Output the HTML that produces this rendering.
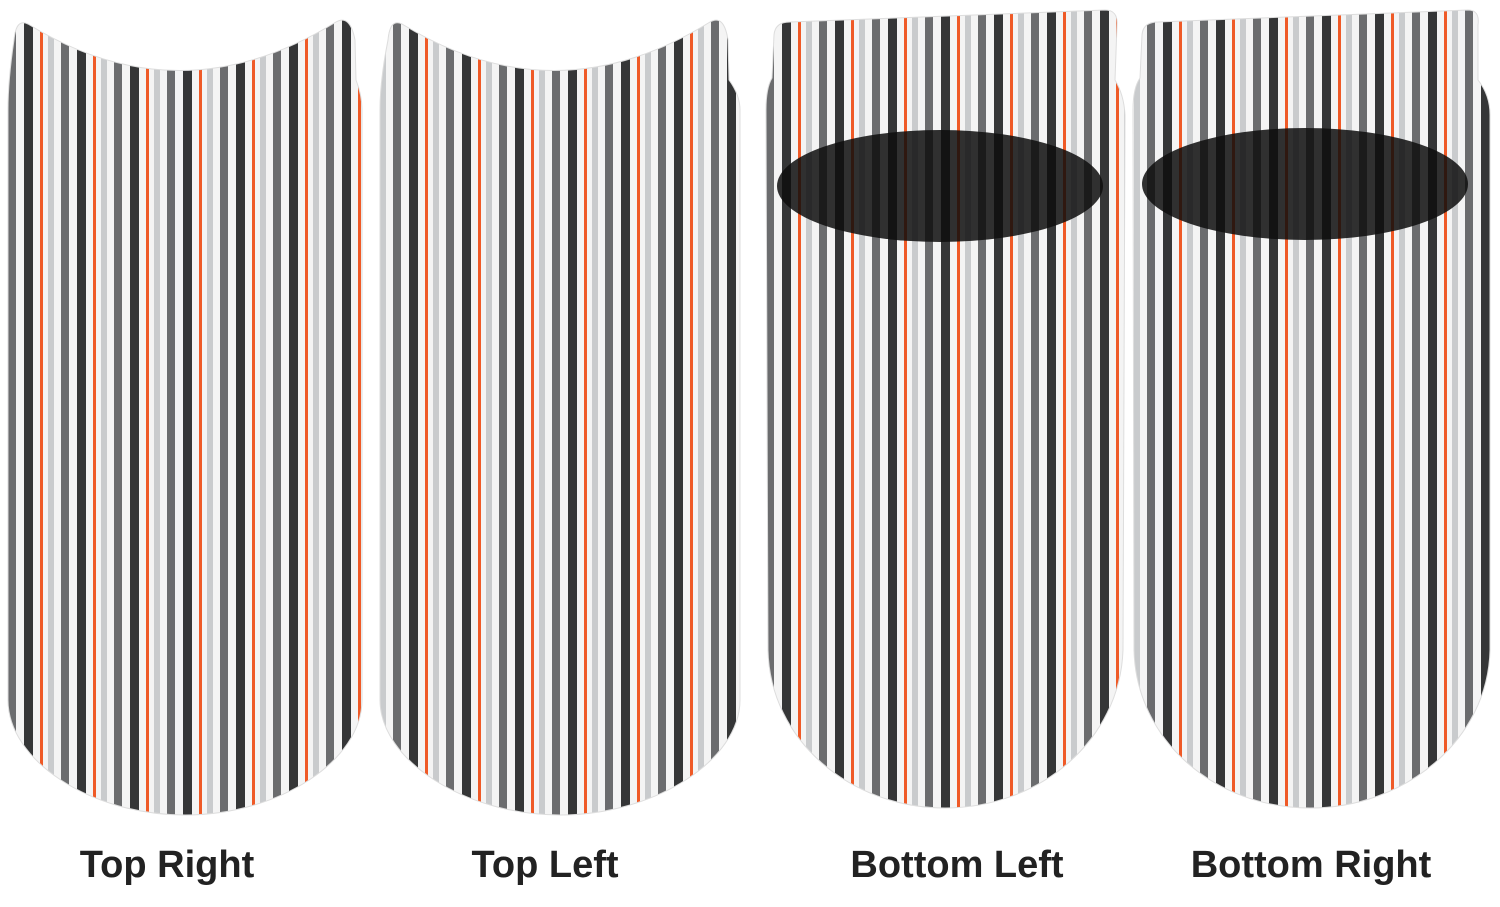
<!DOCTYPE html>
<html><head><meta charset="utf-8"><style>
html,body{margin:0;padding:0;background:#fff;}
svg{display:block;}
text{font-family:"Liberation Sans",Arial,sans-serif;font-weight:bold;fill:#222;font-size:38px;}
</style></head><body>
<svg width="1500" height="907" viewBox="0 0 1500 907" xmlns="http://www.w3.org/2000/svg">
<defs>
<g id="st">
<rect x="0" y="0" width="53" height="900" fill="#f4f4f4"/>
<rect x="0" y="0" width="8" height="900" fill="#6b6c6e"/>
<rect x="16" y="0" width="9" height="900" fill="#353637"/>
<rect x="32" y="0" width="3" height="900" fill="#ef5a27"/>
<rect x="40" y="0" width="6" height="900" fill="#c9cbcd"/>
</g>
<pattern id="p1" patternUnits="userSpaceOnUse" x="8" y="0" width="53" height="907"><use href="#st"/></pattern>
<pattern id="p2" patternUnits="userSpaceOnUse" x="393" y="0" width="53" height="907"><use href="#st"/></pattern>
<pattern id="p3" patternUnits="userSpaceOnUse" x="766" y="0" width="53" height="907"><use href="#st"/></pattern>
<pattern id="p4" patternUnits="userSpaceOnUse" x="1147" y="0" width="53" height="907"><use href="#st"/></pattern>
</defs>

<path d="M14,40 Q16,18 28,24 Q180,118 336,22 Q350,14 355,40 L356,80 Q362,95 362,110 L362,700 C362,760 280,815 185,815 C90,815 8,760 8,700 L8,110 Q8,80 14,40 Z" fill="url(#p1)" stroke="#ddd" stroke-width="1"/>
<path d="M388,40 Q390,18 402,24 Q555,118 710,22 Q724,14 728,40 L729,80 Q740,95 740,110 L740,700 C740,760 655,815 560,815 C465,815 380,760 380,700 L380,110 Q380,80 388,40 Z" fill="url(#p2)" stroke="#ddd" stroke-width="1"/>
<path d="M774,35 Q775,22 790,22 L1105,10 Q1118,10 1117,25 L1115,80 Q1124,95 1125,115 L1123,650 C1120,740 1040,808 945,808 C850,808 770,740 768,650 L766,110 Q766,88 772,78 Z" fill="url(#p3)" stroke="#ddd" stroke-width="1"/>
<ellipse cx="940" cy="186" rx="163" ry="56" fill="#0d0d0d" opacity="0.85"/>
<path d="M1142,35 Q1143,22 1158,22 L1468,10 Q1480,10 1478,25 L1478,80 Q1490,95 1490,115 L1490,650 C1488,740 1405,808 1310,808 C1215,808 1136,740 1134,650 L1133,110 Q1133,88 1140,78 Z" fill="url(#p4)" stroke="#ddd" stroke-width="1"/>
<ellipse cx="1305" cy="184" rx="163" ry="56" fill="#0d0d0d" opacity="0.85"/>

<text x="167" y="877" text-anchor="middle">Top Right</text>
<text x="545" y="877" text-anchor="middle">Top Left</text>
<text x="957" y="877" text-anchor="middle">Bottom Left</text>
<text x="1311" y="877" text-anchor="middle">Bottom Right</text>
</svg>
</body></html>
